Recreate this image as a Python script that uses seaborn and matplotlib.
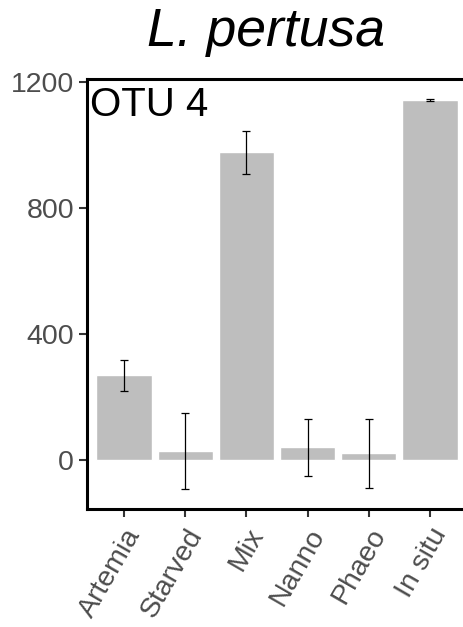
import numpy as np
import pandas as pd
from matplotlib import pyplot as plt
import seaborn as sns

diets = ['Artemia', 'Starved', 'Mix', 'Nanno', 'Phaeo', 'In situ']
means = [269, 28, 976, 40, 21, 1142]
errs = [49, 120, 68, 90, 110, 3]

sns.set_style('white')
plt.rcParams['font.family'] = ['Liberation Sans', 'DejaVu Sans']

df = pd.DataFrame({'diet': diets, 'mean': means})

fig = plt.figure(figsize=(4.64, 6.27), dpi=100)
ax = fig.add_axes([87.3 / 464, 117.7 / 627, (466.7 - 87.3) / 464, (509.3 - 79.3) / 627])

sns.barplot(data=df, x='diet', y='mean', color='#BEBEBE', saturation=1,
            width=0.9, errorbar=None, ax=ax)
ax.errorbar(np.arange(len(diets)), means, yerr=errs, fmt='none',
            ecolor='black', elinewidth=0.9, capsize=3, capthick=0.9)

ax.set_xlim(-0.6, 5.6)
ax.set_ylim(-157, 1207.6)
ax.set_yticks([0, 400, 800, 1200])
ax.set_xlabel('')
ax.set_ylabel('')

for s in ['left', 'bottom', 'top']:
    ax.spines[s].set_color('black')
    ax.spines[s].set_linewidth(2.2)
ax.spines['right'].set_visible(False)

ax.tick_params(axis='both', length=5.5, width=1.5, color='#333333',
               labelcolor='#4D4D4D', labelsize=20.5, pad=4, direction='out')
ax.tick_params(axis='x', pad=5)
ax.tick_params(left=True, bottom=True)
for lbl in ax.get_xticklabels():
    lbl.set_rotation(60)
    lbl.set_ha('right')
    lbl.set_va('top')
    lbl.set_rotation_mode('anchor')

ax.text(0.008, 0.985, 'OTU 4', transform=ax.transAxes, fontsize=29,
        color='black', ha='left', va='top')

fig.text(266 / 464, 1 - 32 / 627, 'L. pertusa', fontsize=38.5, style='italic',
         ha='center', va='center', color='black')

fig.savefig('out.png', dpi=100)
